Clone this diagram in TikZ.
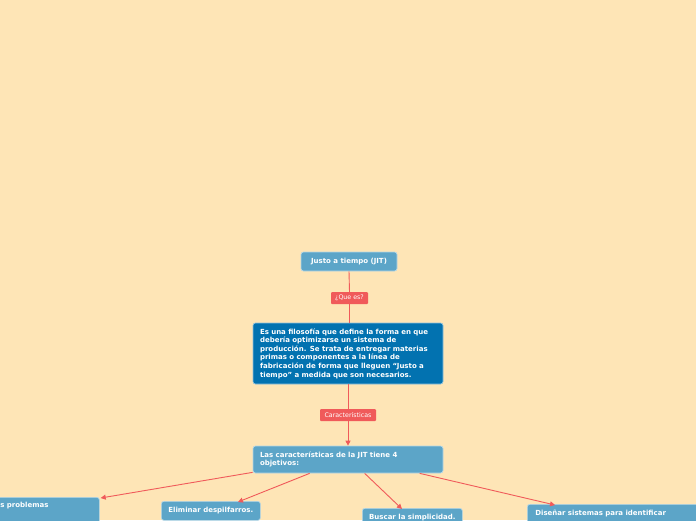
\documentclass[tikz,border=0pt]{standalone}
\usepackage{fontspec}
\setmainfont{DejaVu Sans}
\usetikzlibrary{calc,arrows.meta}
\definecolor{bg}{HTML}{FEE5B6}
\definecolor{lblue}{HTML}{5CA5C8}
\definecolor{dblue}{HTML}{0272B0}
\definecolor{lred}{HTML}{F05A5A}
\begin{document}
\begin{tikzpicture}[x=1pt,y=-1pt,
  box/.style={rectangle, rounded corners=2.5pt, fill=lblue, draw=white!55!lblue, line width=0.7pt,
    text=white, font=\fontsize{7}{8.6}\selectfont\bfseries, inner ysep=0pt, inner xsep=8pt, align=left},
  dbox/.style={box, fill=dblue, draw=white!55!dblue},
  tag/.style={rectangle, fill=lred, text=white, font=\fontsize{6.3}{6}\selectfont, inner sep=0pt,
    rounded corners=1pt},
  link/.style={draw=lred, line width=0.9pt},
  arr/.style={link, -{Triangle[length=5pt,width=5pt]}}
]
\fill[bg] (0,0) rectangle (696,520);
\useasboundingbox (0,0) rectangle (696,520);

\node[box, minimum width=96pt, minimum height=19pt, align=center, inner xsep=0pt] (jit) at (349,261.5) {Justo a tiempo (JIT)};
\node[dbox, text width=176pt, inner xsep=7pt, minimum height=61pt] (def) at (348,353.5)
 {Es una filosofía que define la forma en que\\debería optimizarse un sistema de\\producción. Se trata de entregar materias\\primas o componentes a la línea de\\fabricación de forma que lleguen “Justo a\\tiempo” a medida que son necesarios.};
\node[box, text width=176pt, inner xsep=7pt, minimum height=27pt] (car) at (348,459.5)
 {Las características de la JIT tiene 4\\objetivos:};

\node[box, anchor=north west, text width=91pt, inner ysep=5pt, text depth=30pt] (prob) at (-8,497) {s problemas};
\node[box, anchor=north west, minimum width=99pt, minimum height=19pt, align=center, inner xsep=0pt] (elim) at (161,501) {Eliminar despilfarros.};
\node[box, anchor=north west, minimum width=100pt, minimum height=19pt, align=center, inner xsep=0pt] (simp) at (362,508) {Buscar la simplicidad.};
\node[box, anchor=north west, text width=176pt, inner ysep=5.5pt, text depth=30pt] (dis) at (527,504) {Diseñar sistemas para identificar};

\node[tag, minimum width=37pt, minimum height=12pt] (q) at (349.5,298) {¿Que es?};
\node[tag, minimum width=56pt, minimum height=12pt] (c) at (348,415) {Características};

\draw[link] (jit.south) -- (q.north);
\draw[link] (q.south) -- (q.south |- def.north);
\draw[link] (def.south) -- (c.north);
\draw[arr] (c.south) -- (c.south |- car.north);

\draw[arr] ([yshift=1pt]car.south west) -- ([shift={(1pt,-1pt)}]prob.north east);
\draw[arr] ([xshift=57pt]car.south west) -- ([xshift=77pt,yshift=-1pt]elim.north west);
\draw[arr] ([xshift=112pt]car.south west) -- ([xshift=40pt,yshift=-1pt]simp.north west);
\draw[arr] ([xshift=167pt]car.south west) -- ([xshift=28pt,yshift=-1pt]dis.north west);
\end{tikzpicture}
\end{document}
